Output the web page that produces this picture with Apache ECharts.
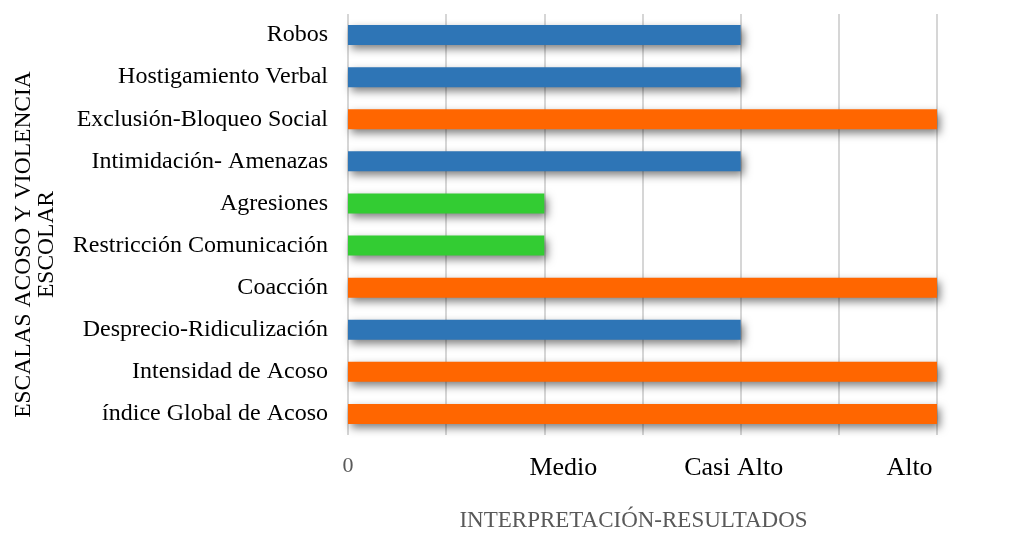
<!DOCTYPE html>
<html>
<head>
<meta charset="utf-8">
<script src="https://cdn.jsdelivr.net/npm/echarts@6/dist/echarts.min.js"></script>
<style>
  html, body { margin: 0; padding: 0; background: #ffffff; }
  #chart { width: 1022px; height: 534px; }
</style>
</head>
<body>
<div id="chart"></div>
<script>
// Scales of the school bullying questionnaire, listed top to bottom
const categories = [
  'Robos',
  'Hostigamiento Verbal',
  'Exclusión-Bloqueo Social',
  'Intimidación- Amenazas',
  'Agresiones',
  'Restricción Comunicación',
  'Coacción',
  'Desprecio-Ridiculización',
  'Intensidad de Acoso',
  'índice Global de Acoso'
];

// Interpretation level per scale (0 = none, 2 = Medio, 4 = Casi Alto, 6 = Alto)
const levels = [4, 4, 6, 4, 2, 2, 6, 4, 6, 6];

// Tick labels along the value axis, one per unit step
const tickLabels = ['0', '', 'Medio', '', 'Casi Alto', '', 'Alto'];

// Bar colour by level
const levelColors = { 2: '#33CC33', 4: '#2E75B6', 6: '#FF6600' };

// Rich-text style key for each labelled tick
const tickStyles = ['zero', '', 'medio', '', 'casi', '', 'alto'];

const serif = '"Liberation Serif", "Times New Roman", serif';

const chart = echarts.init(document.getElementById('chart'), null, { renderer: 'canvas' });

chart.setOption({
  backgroundColor: '#ffffff',
  animation: false,
  textStyle: { fontFamily: serif },
  grid: {
    left: 348, right: 85, top: 14, bottom: 99,
    containLabel: false,
    outerBoundsMode: 'none'
  },
  xAxis: {
    type: 'value',
    min: 0,
    max: 6,
    interval: 1,
    name: 'INTERPRETACIÓN-RESULTADOS',
    nameLocation: 'middle',
    nameGap: 74,
    nameTextStyle: {
      fontFamily: serif,
      fontSize: 23,
      color: '#595959',
      padding: [0, 18, 0, 0]
    },
    axisLine: { show: false },
    axisTick: { show: false },
    splitLine: { show: true, lineStyle: { color: '#D6D6D6', width: 2 } },
    axisLabel: {
      margin: 20,
      fontFamily: serif,
      formatter: function (v) {
        const i = Math.round(v);
        const txt = tickLabels[i];
        if (!txt) return '';
        return '{' + tickStyles[i] + '|' + txt + '}';
      },
      rich: {
        zero: { fontFamily: serif, fontSize: 22, color: '#595959' },
        medio: { fontFamily: serif, fontSize: 26, color: '#000000', padding: [0, 0, 0, 38] },
        casi: { fontFamily: serif, fontSize: 26, color: '#000000', padding: [0, 14, 0, 0] },
        alto: { fontFamily: serif, fontSize: 26, color: '#000000', padding: [0, 55, 0, 0] }
      }
    }
  },
  yAxis: {
    type: 'category',
    inverse: true,
    data: categories,
    name: 'ESCALAS ACOSO Y VIOLENCIA\nESCOLAR',
    nameLocation: 'middle',
    nameGap: 290,
    nameTextStyle: {
      fontFamily: serif,
      fontSize: 23.5,
      lineHeight: 23,
      color: '#000000',
      align: 'center',
      padding: [0, 40, 0, 0]
    },
    axisLine: { show: false },
    axisTick: { show: false },
    axisLabel: {
      margin: 20,
      fontFamily: serif,
      fontSize: 24,
      color: '#000000'
    }
  },
  series: [{
    type: 'bar',
    barWidth: 20,
    data: levels.map(function (v) {
      return {
        value: v,
        itemStyle: {
          color: levelColors[v],
          shadowColor: 'rgba(0,0,0,0.5)',
          shadowBlur: 8,
          shadowOffsetX: 3,
          shadowOffsetY: 4
        }
      };
    })
  }]
});
</script>
</body>
</html>
